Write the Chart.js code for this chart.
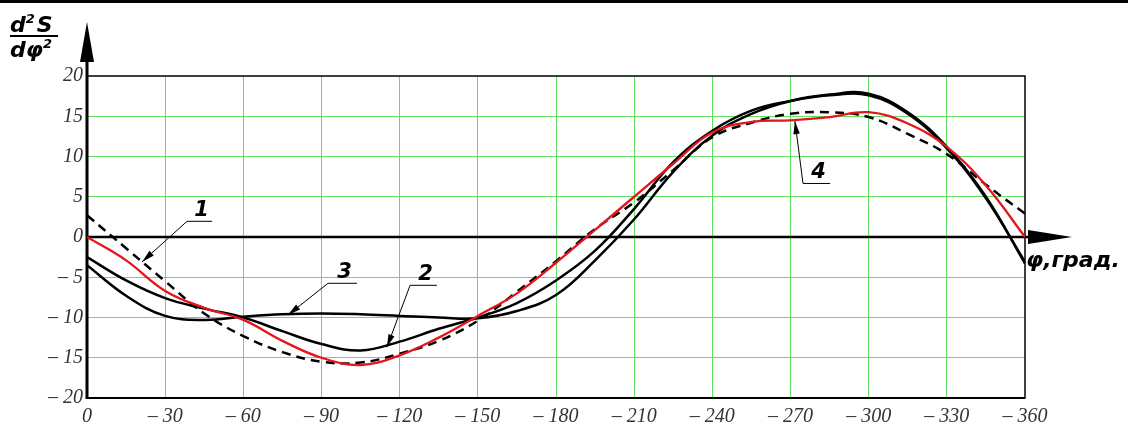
<!DOCTYPE html>
<html>
<head>
<meta charset="utf-8">
<script src="https://cdn.jsdelivr.net/npm/chart.js@4.4.1/dist/chart.umd.min.js"></script>
<style>
  html, body { margin: 0; padding: 0; background: #fff; }
  #wrap { width: 1128px; height: 428px; position: relative; }
</style>
</head>
<body>
<div id="wrap"><canvas id="chart" width="1128" height="428"></canvas></div>
<script>
// angle, degrees
const angles = [0, 15, 30, 45, 60, 75, 90, 105, 120, 135, 150, 165, 180, 195, 210, 225, 240, 255, 270, 285, 300, 315, 330, 345, 360];

// curve 1 - dashed
const curve1 = [2.7, -1.4, -5.5, -9.5, -12.3, -14.3, -15.5, -15.6, -14.5, -12.9, -10.4, -6.8, -3.0, 1.0, 4.3, 8.3, 12.4, 14.2, 15.3, 15.5, 14.9, 12.8, 10.3, 6.5, 2.9];
// curve 2 - black, dip to -14
const curve2 = [-2.5, -5.4, -7.6, -8.9, -10.0, -11.7, -13.3, -14.1, -13.0, -11.4, -10.0, -8.2, -5.4, -1.7, 3.5, 9.3, 13.2, 15.7, 16.9, 17.6, 17.6, 15.3, 11.0, 4.8, -3.1];
// curve 3 - black, flat near -10
const curve3 = [-3.5, -7.3, -9.8, -10.3, -9.9, -9.6, -9.5, -9.6, -9.8, -10.0, -10.1, -9.2, -7.2, -2.9, 2.2, 8.1, 12.6, 15.3, 16.9, 17.7, 17.8, 15.5, 11.2, 5.0, -3.3];
// curve 4 - red
const curve4 = [0, -2.9, -6.7, -8.8, -10.3, -12.9, -15.0, -15.9, -14.7, -12.5, -9.8, -7.0, -3.2, 0.9, 5.0, 9.1, 13.0, 14.3, 14.5, 14.9, 15.5, 14.1, 11.2, 6.4, 0];

const xTickLabels = ['0', '\u2013 30', '\u2013 60', '\u2013 90', '\u2013 120', '\u2013 150', '\u2013 180', '\u2013 210', '\u2013 240', '\u2013 270', '\u2013 300', '\u2013 330', '\u2013 360'];
const yTickLabels = ['\u2013 20', '\u2013 15', '\u2013 10', '\u2013 5', '0', '5', '10', '15', '20'];

// curve callouts: [label, tip angle, tip value, elbow angle, elbow value, shelf end angle]
const callouts = [
  ['1', 21.1, -3.1, 38.4, 1.95, 48.0],
  ['3', 77.1, -9.7, 92.5, -5.75, 103.6],
  ['2', 115.1, -13.7, 124.0, -6.0, 134.3],
  ['4', 271.7, 14.4, 274.8, 6.65, 285.2]
];

const GREEN = '#63e063';
const tickFont = { family: '"Liberation Serif", "Times New Roman", serif', style: 'italic', size: 20 };
const TITLE = 'bold italic 22px "DejaVu Sans", sans-serif';
const SUP = 'bold italic 13px "DejaVu Sans", sans-serif';

function pts(ys) {
  return angles.map((a, i) => ({ x: a, y: ys[i] }));
}

function arrowHead(ctx, x0, y0, x1, y1, len, half) {
  const ang = Math.atan2(y1 - y0, x1 - x0);
  ctx.beginPath();
  ctx.moveTo(x1, y1);
  ctx.lineTo(x1 - len * Math.cos(ang) + half * Math.sin(ang), y1 - len * Math.sin(ang) - half * Math.cos(ang));
  ctx.lineTo(x1 - len * Math.cos(ang) - half * Math.sin(ang), y1 - len * Math.sin(ang) + half * Math.cos(ang));
  ctx.closePath();
  ctx.fill();
}

// text with a superscript "2" after the base part, returns end x
function withSquare(ctx, base, x, y) {
  ctx.font = TITLE;
  ctx.fillText(base, x, y);
  x += ctx.measureText(base).width;
  ctx.font = SUP;
  ctx.fillText('2', x, y - 9);
  return x + ctx.measureText('2').width;
}

const framePlugin = {
  id: 'frame',
  beforeDatasetsDraw(chart) {
    const { ctx, chartArea: a, scales } = chart;
    const y0 = scales.y.getPixelForValue(0);
    ctx.save();
    ctx.strokeStyle = '#000';
    ctx.fillStyle = '#000';
    // page rule at the very top
    ctx.fillRect(0, 0, chart.width, 3);
    // frame
    ctx.lineWidth = 1.5;
    ctx.strokeRect(a.left, a.top, a.right - a.left, a.bottom - a.top);
    ctx.lineWidth = 2;
    ctx.beginPath();
    ctx.moveTo(a.left, a.bottom);
    ctx.lineTo(a.right, a.bottom);
    ctx.stroke();
    // zero line with arrow
    ctx.lineWidth = 2.5;
    ctx.beginPath();
    ctx.moveTo(a.left, y0);
    ctx.lineTo(a.right + 10, y0);
    ctx.stroke();
    ctx.beginPath();
    ctx.moveTo(a.right + 3, y0 - 7);
    ctx.lineTo(a.right + 47, y0);
    ctx.lineTo(a.right + 3, y0 + 7);
    ctx.closePath();
    ctx.fill();
    // y axis with arrow
    ctx.lineWidth = 3;
    ctx.beginPath();
    ctx.moveTo(a.left, a.bottom + 1);
    ctx.lineTo(a.left, 50);
    ctx.stroke();
    ctx.beginPath();
    ctx.moveTo(a.left - 7, 62);
    ctx.lineTo(a.left, 22);
    ctx.lineTo(a.left + 7, 62);
    ctx.closePath();
    ctx.fill();
    ctx.restore();
  },
  afterDatasetsDraw(chart) {
    const { ctx, chartArea: a, scales } = chart;
    const X = v => scales.x.getPixelForValue(v);
    const Y = v => scales.y.getPixelForValue(v);
    ctx.save();
    ctx.fillStyle = '#000';
    ctx.strokeStyle = '#000';
    // callouts
    callouts.forEach(([lab, ta, tv, ea, ev, sa]) => {
      const tx = X(ta), ty = Y(tv), ex = X(ea), ey = Y(ev), sx = X(sa);
      ctx.lineWidth = 1;
      ctx.beginPath();
      ctx.moveTo(sx, ey);
      ctx.lineTo(ex, ey);
      ctx.lineTo(tx, ty);
      ctx.stroke();
      arrowHead(ctx, ex, ey, tx, ty, 13, 3.2);
      ctx.font = 'bold italic 21px "DejaVu Sans", sans-serif';
      ctx.textAlign = 'center';
      ctx.textBaseline = 'alphabetic';
      ctx.fillText(lab, (ex + sx) / 2 + 2, ey - 5);
    });
    // axis titles
    ctx.textAlign = 'left';
    ctx.font = TITLE;
    const dEnd = withSquare(ctx, 'd', 10, 32);
    ctx.font = TITLE;
    ctx.fillText('S', dEnd + 2, 32);
    ctx.fillRect(10, 35, 48, 2);
    withSquare(ctx, 'd\u03C6', 10, 57);
    ctx.font = TITLE;
    ctx.fillText('\u03C6,\u0433\u0440\u0430\u0434.', a.right + 1, Y(0) + 30);
    ctx.restore();
  }
};

new Chart(document.getElementById('chart'), {
  type: 'line',
  data: {
    datasets: [
      { label: '4', data: pts(curve4), borderColor: '#e3161c', borderWidth: 2.3, order: 0 },
      { label: '1', data: pts(curve1), borderColor: '#000', borderWidth: 2.5, borderDash: [9, 6], order: 1 },
      { label: '2', data: pts(curve2), borderColor: '#000', borderWidth: 2.5, order: 1 },
      { label: '3', data: pts(curve3), borderColor: '#000', borderWidth: 2.5, order: 1 }
    ]
  },
  options: {
    responsive: false,
    animation: false,
    devicePixelRatio: 1,
    layout: { padding: { left: 0, top: 76, right: 103, bottom: 0 } },
    elements: { point: { radius: 0 }, line: { tension: 0.4, fill: false } },
    plugins: { legend: { display: false }, tooltip: { enabled: false } },
    scales: {
      x: {
        type: 'linear', min: 0, max: 360,
        afterFit: s => { s.height = 30; },
        border: { display: false },
        grid: { color: c => (c.tick && c.tick.value === 360 ? 'rgba(0,0,0,0)' : GREEN), lineWidth: 1, drawTicks: false },
        ticks: { stepSize: 30, autoSkip: false, maxRotation: 0, padding: 7, color: '#333', font: tickFont,
          callback: v => xTickLabels[Math.round(v / 30)] }
      },
      y: {
        min: -20, max: 20,
        afterFit: s => { s.width = 87; },
        border: { display: false },
        grid: { color: c => (c.tick && Math.abs(c.tick.value) === 20 ? 'rgba(0,0,0,0)' : GREEN), lineWidth: 1, drawTicks: false },
        ticks: { stepSize: 5, padding: 4, color: '#333', font: tickFont,
          callback: v => yTickLabels[Math.round((v + 20) / 5)] }
      }
    }
  },
  plugins: [framePlugin]
});
</script>
</body>
</html>
